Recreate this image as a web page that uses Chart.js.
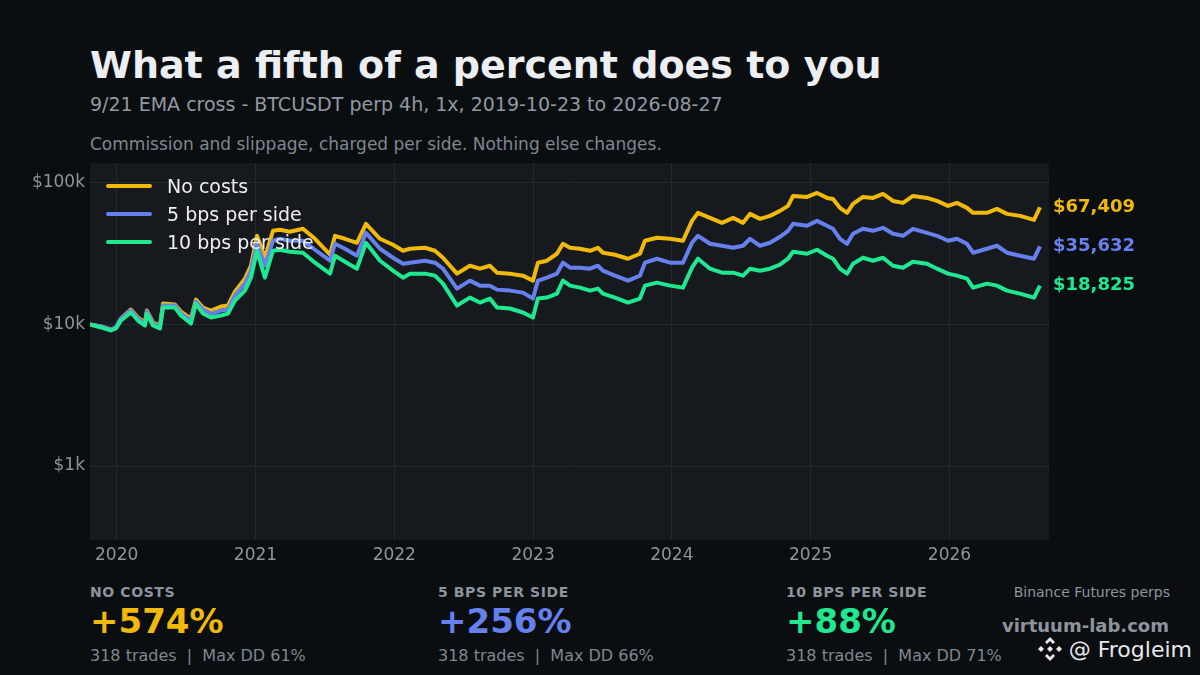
<!DOCTYPE html>
<html>
<head>
<meta charset="utf-8">
<script src="https://cdn.jsdelivr.net/npm/chart.js@4.4.1/dist/chart.umd.min.js"></script>
<style>
  html, body { margin: 0; padding: 0; background: #0b0e11; }
  body { width: 1200px; height: 675px; position: relative; overflow: hidden; font-family: "DejaVu Sans", sans-serif; }
  .abs { position: absolute; white-space: nowrap; }
  #title { left: 90px; top: 43px; font-size: 38px; font-weight: bold; color: #eceef1; }
  #sub { left: 90px; top: 93px; font-size: 19px; color: #9299a2; }
  #note { left: 90px; top: 134px; font-size: 17px; color: #7f8690; }
  #chartWrap { left: 0; top: 148px; width: 1200px; height: 427px; }
  .leg { left: 106px; font-size: 19px; color: #eceef1; display: flex; align-items: center; }
  .leg i { display: inline-block; width: 46px; height: 4px; border-radius: 2px; margin-right: 15px; }
  .stat { top: 584px; }
  .stat .lab { font-size: 14px; font-weight: bold; color: #8e949d; letter-spacing: 0.6px; }
  .stat .val { font-size: 34px; font-weight: bold; margin-top: 1px; line-height: 40px; }
  .stat .det { font-size: 16px; color: #7f8690; margin-top: 5px; }
  #src { right: 30px; top: 584px; font-size: 14px; color: #8e949d; }
  #site { right: 31px; top: 615px; font-size: 18px; font-weight: bold; color: #8e949d; }
  #handle { right: 8px; top: 636px; font-size: 22px; color: #e6e8eb; display: flex; align-items: center; }
  #handle svg { margin-right: 6px; }
</style>
</head>
<body>
<div class="abs" id="title">What a fifth of a percent does to you</div>
<div class="abs" id="sub">9/21 EMA cross - BTCUSDT perp 4h, 1x, 2019-10-23 to 2026-08-27</div>
<div class="abs" id="note">Commission and slippage, charged per side. Nothing else changes.</div>

<div class="abs" id="chartWrap"><canvas id="equity" width="1200" height="427"></canvas></div>

<div class="abs leg" style="top:175px"><i style="background:#f0b90b"></i>No costs</div>
<div class="abs leg" style="top:203px"><i style="background:#6681ee"></i>5 bps per side</div>
<div class="abs leg" style="top:231px"><i style="background:#1fe890"></i>10 bps per side</div>

<div class="abs stat" style="left:90px">
  <div class="lab">NO COSTS</div>
  <div class="val" style="color:#f0b90b">+574%</div>
  <div class="det">318 trades &nbsp;|&nbsp; Max DD 61%</div>
</div>
<div class="abs stat" style="left:438px">
  <div class="lab">5 BPS PER SIDE</div>
  <div class="val" style="color:#6681ee">+256%</div>
  <div class="det">318 trades &nbsp;|&nbsp; Max DD 66%</div>
</div>
<div class="abs stat" style="left:786px">
  <div class="lab">10 BPS PER SIDE</div>
  <div class="val" style="color:#1fe890">+88%</div>
  <div class="det">318 trades &nbsp;|&nbsp; Max DD 71%</div>
</div>

<div class="abs" id="src">Binance Futures perps</div>
<div class="abs" id="site">virtuum-lab.com</div>
<div class="abs" id="handle">
  <svg width="26" height="26" viewBox="0 0 26 26">
    <g fill="#e6e8eb">
      <path d="M13 1 L18 6 L16 8 L13 5 L10 8 L8 6 Z"/>
      <path d="M13 25 L18 20 L16 18 L13 21 L10 18 L8 20 Z"/>
      <path d="M4 10 L7 13 L4 16 L1 13 Z"/>
      <path d="M22 10 L25 13 L22 16 L19 13 Z"/>
      <path d="M13 10 L16 13 L13 16 L10 13 Z"/>
    </g>
  </svg>@ Frogleim
</div>

<script>
// time in fractional years, equity in USD (start 10k)
var t = [2019.808, 2019.887, 2019.959, 2019.995, 2020.031, 2020.103, 2020.153, 2020.204, 2020.218, 2020.262,
         2020.312, 2020.334, 2020.420, 2020.463, 2020.535, 2020.571, 2020.622, 2020.679, 2020.751, 2020.802,
         2020.852, 2020.924, 2020.968, 2021.011, 2021.068, 2021.126, 2021.176, 2021.248, 2021.342, 2021.429,
         2021.537, 2021.573, 2021.645, 2021.731, 2021.796, 2021.897, 2021.991, 2022.063, 2022.113, 2022.221,
         2022.293, 2022.351, 2022.452, 2022.545, 2022.617, 2022.689, 2022.740, 2022.834, 2022.927, 2022.999,
         2023.035, 2023.100, 2023.172, 2023.215, 2023.266, 2023.338, 2023.410, 2023.467, 2023.503, 2023.590,
         2023.684, 2023.770, 2023.806, 2023.893, 2023.986, 2024.080, 2024.145, 2024.188, 2024.275, 2024.361,
         2024.441, 2024.513, 2024.563, 2024.635, 2024.707, 2024.779, 2024.837, 2024.873, 2024.974, 2025.046,
         2025.118, 2025.161, 2025.211, 2025.262, 2025.305, 2025.377, 2025.449, 2025.521, 2025.593, 2025.665,
         2025.737, 2025.838, 2025.910, 2025.989, 2026.054, 2026.126, 2026.170, 2026.270, 2026.342, 2026.414,
         2026.508, 2026.609, 2026.652];

var noCosts = [10000, 9680, 9220, 9530, 11020, 12750, 11200, 10330, 12550, 10330,
               9840, 14060, 13830, 12350, 11020, 15000, 13180, 12550, 13390, 13610,
               17080, 21090, 26030, 42350, 29630, 45930, 46680, 45190, 47440, 40340,
               31120, 42350, 40340, 37800, 51450, 40340, 36600, 33200, 34300, 34860,
               33200, 29630, 22870, 26030, 24800, 26030, 23240, 22870, 22140, 20410,
               27330, 28230, 31620, 37200, 34860, 34300, 33200, 34860, 32150, 31120,
               29160, 31620, 39050, 41000, 40340, 39050, 54010, 61500, 56700, 52290,
               56700, 52290, 60510, 55790, 58570, 63530, 68900, 81030, 79730, 85040,
               78450, 77190, 66700, 61500, 71170, 79730, 78450, 83680, 74690, 72330,
               81030, 78450, 74690, 68900, 72330, 66700, 61500, 61500, 65610, 60510,
               58570, 54900, 67409];

var bps5 = [10000, 9680, 9220, 9530, 11020, 12550, 11020, 10160, 12350, 10160,
            9680, 13610, 13610, 11950, 10670, 14520, 12750, 11950, 12550, 12750,
            16000, 19440, 24010, 37800, 26030, 39050, 40340, 39050, 39050, 33750,
            28230, 37200, 34300, 30620, 44460, 34300, 29630, 26890, 27330, 28230,
            27330, 24800, 17930, 20410, 18820, 18820, 17640, 17360, 16800, 15250,
            20410, 21430, 22870, 27330, 25210, 25210, 24800, 26030, 24010, 22140,
            20410, 22140, 27330, 29160, 27330, 27330, 37800, 42350, 37200, 36010,
            34860, 36010, 40340, 36010, 37800, 41670, 45930, 51450, 49810, 54010,
            49810, 47440, 40340, 37200, 43750, 47440, 45930, 48220, 43750, 42350,
            47440, 44460, 42350, 39050, 40340, 37200, 32150, 34300, 36010, 32150,
            30620, 29160, 35632];

var bps10 = [10000, 9530, 9070, 9370, 10670, 12150, 10670, 9840, 11950, 9840,
             9370, 13180, 13180, 11570, 10160, 14060, 11950, 11200, 11570, 11950,
             14760, 17360, 21430, 33200, 21430, 33200, 33750, 32670, 32150, 27330,
             22870, 30620, 27780, 24800, 37800, 28230, 24010, 21430, 22870, 22870,
             22140, 19440, 13610, 15490, 14290, 15250, 13180, 12970, 12150, 11200,
             15250, 15490, 16530, 20410, 18820, 18220, 17360, 17930, 16530, 15490,
             14290, 15250, 18820, 19760, 18820, 18220, 25210, 29160, 24800, 23240,
             23240, 22140, 24800, 24010, 24800, 26460, 29160, 32670, 31620, 33750,
             30620, 29160, 24800, 22870, 26890, 29630, 28230, 29630, 26030, 25210,
             27780, 26890, 24800, 22870, 22140, 21090, 18220, 19440, 18820, 17360,
             16530, 15490, 18825];

var yearTicks = [2020, 2021, 2022, 2023, 2024, 2025, 2026];
var valueTicks = [1000, 10000, 100000];
var valueTickLabels = ['$1k', '$10k', '$100k'];

var colors = { none: '#f0b90b', b5: '#6681ee', b10: '#1fe890' };

function pts(arr) {
    return arr.map(function (v, i) { return { x: t[i], y: v }; });
}

var plotBg = {
    id: 'plotBg',
    beforeDraw: function (chart) {
        var a = chart.chartArea, c = chart.ctx;
        c.save();
        c.fillStyle = '#161a1f';
        c.fillRect(a.left, a.top, a.right - a.left, a.bottom - a.top);
        c.restore();
    }
};

// end-of-line value labels, placed with the y scale
var endLabels = {
    id: 'endLabels',
    afterDatasetsDraw: function (chart) {
        var c = chart.ctx;
        c.save();
        c.font = 'bold 18px "DejaVu Sans"';
        c.textBaseline = 'middle';
        c.textAlign = 'left';
        chart.data.datasets.forEach(function (ds, i) {
            var meta = chart.getDatasetMeta(i);
            var last = meta.data[meta.data.length - 1];
            var v = ds.data[ds.data.length - 1].y;
            c.fillStyle = ds.borderColor;
            c.fillText('$' + v.toLocaleString('en-US'), chart.chartArea.right + 4, last.y);
        });
        c.restore();
    }
};

var ctx = document.getElementById('equity').getContext('2d');
new Chart(ctx, {
    type: 'line',
    data: {
        datasets: [
            { label: 'No costs', data: pts(noCosts), borderColor: colors.none, order: 2 },
            { label: '5 bps per side', data: pts(bps5), borderColor: colors.b5, order: 1 },
            { label: '10 bps per side', data: pts(bps10), borderColor: colors.b10, order: 0 }
        ]
    },
    options: {
        responsive: false,
        animation: false,
        layout: { padding: { left: 0, right: 151, top: 11, bottom: 0 } },
        elements: {
            line: { borderWidth: 4, tension: 0, borderJoinStyle: 'round' },
            point: { radius: 0 }
        },
        plugins: { legend: { display: false }, tooltip: { enabled: false } },
        scales: {
            x: {
                type: 'linear',
                min: 2019.808,
                max: 2026.717,
                afterFit: function (s) { s.height = 35; },
                afterBuildTicks: function (s) { s.ticks = yearTicks.map(function (y) { return { value: y }; }); },
                grid: { color: '#23282e', drawTicks: false },
                border: { display: false },
                ticks: {
                    color: '#8e949d',
                    font: { family: 'DejaVu Sans', size: 17 },
                    padding: 5,
                    maxRotation: 0,
                    callback: function (v) { return String(v); }
                }
            },
            y: {
                type: 'logarithmic',
                min: 300,
                max: 138000,
                afterFit: function (s) { s.width = 90; },
                afterBuildTicks: function (s) { s.ticks = valueTicks.map(function (v) { return { value: v }; }); },
                grid: { color: '#23282e', drawTicks: false },
                border: { display: false },
                ticks: {
                    color: '#8e949d',
                    font: { family: 'DejaVu Sans', size: 17 },
                    padding: 5,
                    callback: function (v) {
                        var i = valueTicks.indexOf(v);
                        return i >= 0 ? valueTickLabels[i] : '';
                    }
                }
            }
        }
    },
    plugins: [plotBg, endLabels]
});
</script>
</body>
</html>
